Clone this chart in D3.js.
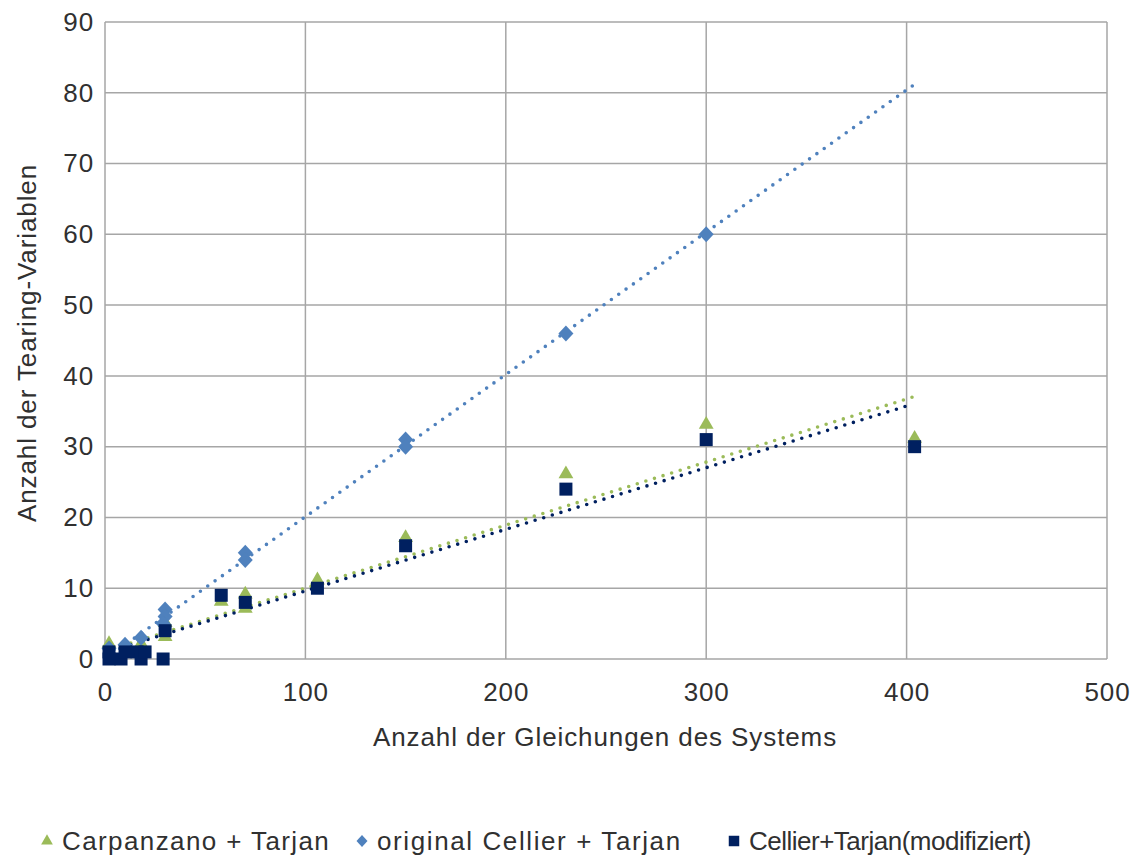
<!DOCTYPE html>
<html>
<head>
<meta charset="utf-8">
<script src="https://cdn.jsdelivr.net/npm/d3@7"></script>
<style>
  body { margin: 0; background: #fff; }
  text { font-family: "Liberation Sans", Arial, sans-serif; fill: #303030; letter-spacing: 0.9px; }
</style>
</head>
<body>
<div id="chart"></div>
<script>
// series values: [Gleichungen, Tearing-Variablen]
const carpanzano = [[2, 2], [10, 1], [18, 2], [30, 5], [30, 3], [58, 8], [70, 9], [70, 7], [106, 11], [150, 17], [230, 26], [300, 33], [404, 31]]
const cellierOrig = [[2, 1.5], [10, 2], [18, 3], [30, 7], [30, 6], [29, 5], [70, 15], [70, 14], [150, 31], [150, 30], [230, 46], [300, 60]]
const cellierMod = [[2, 1], [2, 0], [8, 0], [10, 1], [16, 1], [18, 0], [20, 1], [29, 0], [30, 4], [58, 9], [70, 8], [106, 10], [150, 16], [230, 24], [300, 31], [404, 30]]

// linear trend lines (start and end)
const trendCarpanzano = [[0, 1.1], [403, 37]]
const trendCellierOrig = [[0, 0], [403, 81]]
const trendCellierMod = [[0, 0.9], [403, 36]]

const xTicks = [0, 100, 200, 300, 400, 500]
const yTicks = [0, 10, 20, 30, 40, 50, 60, 70, 80, 90]

const seriesNames = ['Carpanzano + Tarjan', 'original Cellier + Tarjan', 'Cellier+Tarjan(modifiziert)']
const colors = { green: '#9BBB59', blue: '#4F81BD', navy: '#002060' }

const width = 1141
const height = 856
const plot = { left: 105, right: 1107, top: 22, bottom: 659 }
const fontSize = '26px'

const svg = d3.select('#chart')
  .append('svg')
  .attr('width', width)
  .attr('height', height)

const x = d3.scaleLinear([0, 500], [plot.left, plot.right])
const y = d3.scaleLinear([0, 90], [plot.bottom, plot.top])

// gridlines
svg.append('g')
  .selectAll('line')
  .data(yTicks)
  .enter()
  .append('line')
  .attr('x1', plot.left)
  .attr('x2', plot.right)
  .attr('y1', d => y(d))
  .attr('y2', d => y(d))
  .attr('stroke', '#A6A6A6')
  .attr('stroke-width', 1.5)

svg.append('g')
  .selectAll('line')
  .data(xTicks)
  .enter()
  .append('line')
  .attr('x1', d => x(d))
  .attr('x2', d => x(d))
  .attr('y1', plot.top)
  .attr('y2', plot.bottom)
  .attr('stroke', '#A6A6A6')
  .attr('stroke-width', 1.5)

// axes (lines hidden, labels only)
const xAxis = svg.append('g')
  .attr('transform', `translate(0, ${plot.bottom})`)
  .call(d3.axisBottom(x).tickValues(xTicks).tickSize(0).tickPadding(24))
xAxis.select('.domain').remove()
xAxis.selectAll('text').style('font-size', fontSize).attr('fill', '#303030')

const yAxis = svg.append('g')
  .attr('transform', `translate(${plot.left}, 0)`)
  .call(d3.axisLeft(y).tickValues(yTicks).tickSize(0).tickPadding(11))
yAxis.select('.domain').remove()
yAxis.selectAll('text').style('font-size', fontSize).attr('fill', '#303030')

// axis titles
svg.append('text')
  .attr('x', 605)
  .attr('y', 746)
  .attr('text-anchor', 'middle')
  .style('font-size', fontSize)
  .text('Anzahl der Gleichungen des Systems')

svg.append('text')
  .attr('transform', 'translate(36, 343) rotate(-90)')
  .attr('text-anchor', 'middle')
  .style('font-size', fontSize)
  .text('Anzahl der Tearing-Variablen')

// trend lines
const line = d3.line()
  .x(d => x(d[0]))
  .y(d => y(d[1]))

const trends = [
  { data: trendCellierOrig, color: colors.blue },
  { data: trendCarpanzano, color: colors.green },
  { data: trendCellierMod, color: colors.navy }
]

svg.append('g')
  .selectAll('path')
  .data(trends)
  .enter()
  .append('path')
  .attr('d', d => line(d.data))
  .attr('fill', 'none')
  .attr('stroke', d => d.color)
  .attr('stroke-width', 3.6)
  .attr('stroke-linecap', 'round')
  .attr('stroke-dasharray', '0 9')

// markers
const triangle = d3.symbol().type(d3.symbolTriangle).size(95)
const diamondPath = (w, h) => `M0,${-h}L${w},0L0,${h}L${-w},0Z`

svg.append('g')
  .selectAll('path')
  .data(carpanzano)
  .enter()
  .append('path')
  .attr('d', triangle)
  .attr('transform', d => `translate(${x(d[0])}, ${y(d[1]) - 1})`)
  .attr('fill', colors.green)

svg.append('g')
  .selectAll('path')
  .data(cellierOrig)
  .enter()
  .append('path')
  .attr('d', diamondPath(7.5, 8))
  .attr('transform', d => `translate(${x(d[0])}, ${y(d[1])})`)
  .attr('fill', colors.blue)

svg.append('g')
  .selectAll('rect')
  .data(cellierMod)
  .enter()
  .append('rect')
  .attr('x', d => x(d[0]) - 6.5)
  .attr('y', d => y(d[1]) - 6.5)
  .attr('width', 13)
  .attr('height', 13)
  .attr('fill', colors.navy)

// legend
const legendItems = [
  { name: seriesNames[0], x: 47, shape: 'triangle', color: colors.green, spacing: '1.4px' },
  { name: seriesNames[1], x: 362, shape: 'diamond', color: colors.blue, spacing: '1.6px' },
  { name: seriesNames[2], x: 734, shape: 'square', color: colors.navy, spacing: '-0.5px' }
]
const legendY = 841

const legend = svg.append('g')
  .selectAll('g')
  .data(legendItems)
  .enter()
  .append('g')
  .attr('transform', d => `translate(${d.x}, ${legendY})`)

legend.append('path')
  .attr('d', d => {
    if (d.shape === 'triangle') return d3.symbol().type(d3.symbolTriangle).size(60)()
    if (d.shape === 'diamond') return diamondPath(5.5, 6)
    return d3.symbol().type(d3.symbolSquare).size(110)()
  })
  .attr('fill', d => d.color)

legend.append('text')
  .attr('x', 15)
  .attr('y', 9)
  .style('font-size', fontSize)
  .style('letter-spacing', d => d.spacing)
  .text(d => d.name)
</script>
</body>
</html>
